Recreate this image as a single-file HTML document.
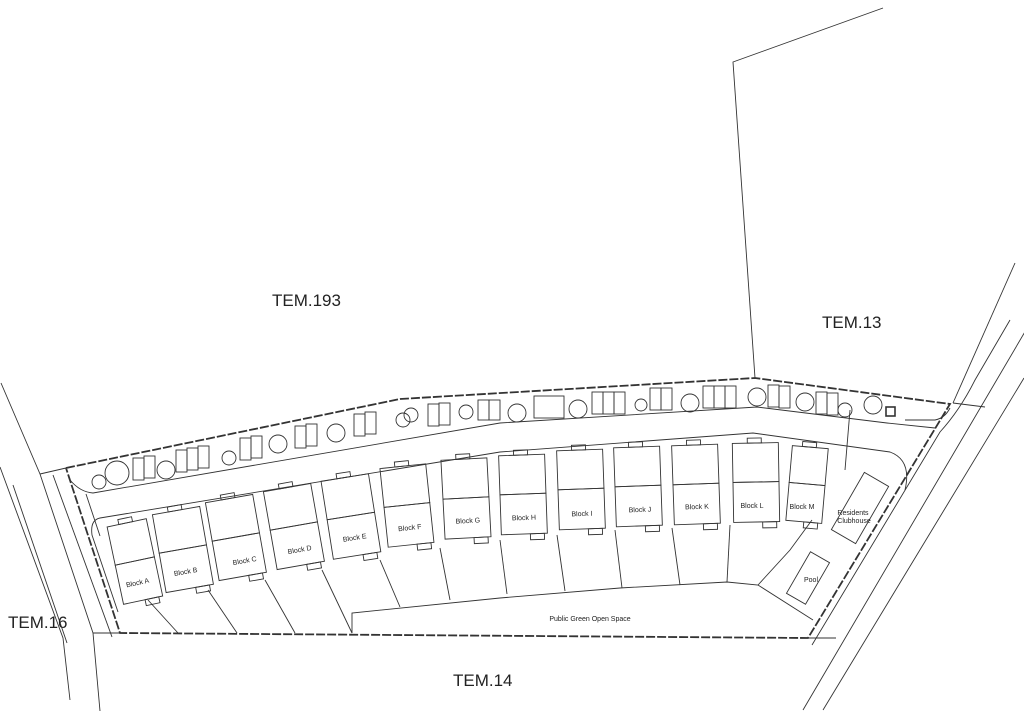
<!DOCTYPE html>
<html><head><meta charset="utf-8"><style>
html,body{margin:0;padding:0;background:#fff;}
svg{display:block;}
text{font-family:"Liberation Sans",sans-serif;fill:#222;}
.t{font-size:17px;}
.s{font-size:7px;text-anchor:middle;}
</style></head><body>
<svg width="1024" height="711" viewBox="0 0 1024 711" xmlns="http://www.w3.org/2000/svg">
<g fill="none" stroke="#333" stroke-width="0.9">
<polyline points="883,8 733,62 755,378"/>
<!-- right roads -->
<line x1="1015" y1="263" x2="953" y2="403"/>
<path d="M1010,320 L975,380 Q960,410 940,432 L812,645"/>
<line x1="1026" y1="330" x2="803" y2="710"/>
<line x1="1024" y1="378" x2="823" y2="710"/>
<line x1="953" y1="403" x2="985" y2="407"/>
<line x1="800" y1="638" x2="836" y2="638"/>
<!-- left roads -->
<polyline points="1,383 40,474 93,633 100,711"/>
<polyline points="0,467 63,638 70,700"/>
<line x1="13" y1="485" x2="67" y2="643"/>
<line x1="40" y1="474" x2="66" y2="468"/>
<line x1="93" y1="633" x2="120" y2="633"/>
<line x1="53" y1="475" x2="112" y2="637"/>
<polyline points="66,468 400,399 755,378 950,404 808,638 120,633 66,468" stroke-width="1.8" stroke-dasharray="9,2"/>
<path d="M70,480 Q80,492 93,493 L500,423 L757,407 L887,423 L935,428"/>
<path d="M118,612 L92,535 Q90,520 100,518 L500,452 L753,433 L890,452 Q912,460 905,490"/>
<line x1="86" y1="494" x2="100" y2="536"/>
<polyline points="352,633 352,613 500,598 620,588 727,582 758,585 813,620"/>
<polyline points="758,585 790,550 812,520"/>
<line x1="148" y1="600" x2="178" y2="633"/><line x1="208" y1="590" x2="237" y2="633"/>
<line x1="265" y1="580" x2="295" y2="633"/><line x1="322" y1="570" x2="352" y2="633"/>
<line x1="380" y1="560" x2="400" y2="607"/><line x1="440" y1="548" x2="450" y2="600"/>
<line x1="500" y1="540" x2="507" y2="594"/><line x1="557" y1="535" x2="565" y2="591"/>
<line x1="615" y1="530" x2="622" y2="588"/><line x1="672" y1="528" x2="680" y2="585"/>
<line x1="730" y1="525" x2="727" y2="582"/><line x1="850" y1="410" x2="845" y2="470"/>
<g transform="translate(860,508) rotate(30)"><rect x="-14" y="-33" width="28" height="66"/></g>
<g transform="translate(808,578) rotate(30)"><rect x="-11" y="-24" width="22" height="48"/></g>
<rect x="886" y="407" width="9" height="9" stroke-width="1.6"/>
<path d="M905,420 L935,420 Q945,418 950,408"/>
<g>
<g transform="translate(135,562) rotate(-12)"><rect x="-20" y="-40" width="40" height="39"/><rect x="-20" y="-1" width="40" height="40"/><rect x="-8" y="-45" width="14" height="5"/><rect x="2" y="39" width="14" height="6"/></g>
<g transform="translate(183,550) rotate(-10)"><rect x="-24" y="-40" width="48" height="39"/><rect x="-24" y="-1" width="48" height="40"/><rect x="-8" y="-45" width="14" height="5"/><rect x="6" y="39" width="14" height="6"/></g>
<g transform="translate(236,538) rotate(-10)"><rect x="-24" y="-40" width="48" height="39"/><rect x="-24" y="-1" width="48" height="40"/><rect x="-8" y="-45" width="14" height="5"/><rect x="6" y="39" width="14" height="6"/></g>
<g transform="translate(294,527) rotate(-10)"><rect x="-24" y="-40" width="48" height="39"/><rect x="-24" y="-1" width="48" height="40"/><rect x="-8" y="-45" width="14" height="5"/><rect x="6" y="39" width="14" height="6"/></g>
<g transform="translate(351,517) rotate(-9)"><rect x="-24" y="-40" width="48" height="39"/><rect x="-24" y="-1" width="48" height="40"/><rect x="-8" y="-45" width="14" height="5"/><rect x="6" y="39" width="14" height="6"/></g>
<g transform="translate(407,506) rotate(-6)"><rect x="-23" y="-40" width="46" height="39"/><rect x="-23" y="-1" width="46" height="40"/><rect x="-8" y="-45" width="14" height="5"/><rect x="6" y="39" width="14" height="6"/></g>
<g transform="translate(466,499) rotate(-3)"><rect x="-23" y="-40" width="46" height="39"/><rect x="-23" y="-1" width="46" height="40"/><rect x="-8" y="-45" width="14" height="5"/><rect x="6" y="39" width="14" height="6"/></g>
<g transform="translate(523,495) rotate(-2)"><rect x="-23" y="-40" width="46" height="39"/><rect x="-23" y="-1" width="46" height="40"/><rect x="-8" y="-45" width="14" height="5"/><rect x="6" y="39" width="14" height="6"/></g>
<g transform="translate(581,490) rotate(-2)"><rect x="-23" y="-40" width="46" height="39"/><rect x="-23" y="-1" width="46" height="40"/><rect x="-8" y="-45" width="14" height="5"/><rect x="6" y="39" width="14" height="6"/></g>
<g transform="translate(638,487) rotate(-2)"><rect x="-23" y="-40" width="46" height="39"/><rect x="-23" y="-1" width="46" height="40"/><rect x="-8" y="-45" width="14" height="5"/><rect x="6" y="39" width="14" height="6"/></g>
<g transform="translate(696,485) rotate(-2)"><rect x="-23" y="-40" width="46" height="39"/><rect x="-23" y="-1" width="46" height="40"/><rect x="-8" y="-45" width="14" height="5"/><rect x="6" y="39" width="14" height="6"/></g>
<g transform="translate(756,483) rotate(-1)"><rect x="-23" y="-40" width="46" height="39"/><rect x="-23" y="-1" width="46" height="40"/><rect x="-8" y="-45" width="14" height="5"/><rect x="6" y="39" width="14" height="6"/></g>
<g transform="translate(807,485) rotate(5)"><rect x="-18" y="-38" width="36" height="37"/><rect x="-18" y="-1" width="36" height="38"/><rect x="-8" y="-43" width="14" height="5"/><rect x="0" y="37" width="14" height="6"/></g>
</g>
<g>
<rect x="133" y="458" width="11" height="22"/><rect x="144" y="456" width="11" height="22"/>
<rect x="176" y="450" width="11" height="22"/><rect x="187" y="448" width="11" height="22"/><rect x="198" y="446" width="11" height="22"/>
<rect x="240" y="438" width="11" height="22"/><rect x="251" y="436" width="11" height="22"/>
<rect x="295" y="426" width="11" height="22"/><rect x="306" y="424" width="11" height="22"/>
<rect x="354" y="414" width="11" height="22"/><rect x="365" y="412" width="11" height="22"/>
<rect x="428" y="404" width="11" height="22"/><rect x="439" y="403" width="11" height="22"/>
<rect x="478" y="400" width="11" height="20"/><rect x="489" y="400" width="11" height="20"/>
<rect x="534" y="396" width="30" height="22"/>
<rect x="592" y="392" width="11" height="22"/><rect x="603" y="392" width="11" height="22"/><rect x="614" y="392" width="11" height="22"/>
<rect x="650" y="388" width="11" height="22"/><rect x="661" y="388" width="11" height="22"/>
<rect x="703" y="386" width="11" height="22"/><rect x="714" y="386" width="11" height="22"/><rect x="725" y="386" width="11" height="22"/>
<rect x="768" y="385" width="11" height="22"/><rect x="779" y="386" width="11" height="22"/>
<rect x="816" y="392" width="11" height="22"/><rect x="827" y="393" width="11" height="22"/>
</g>
<g>
<circle cx="117" cy="473" r="12"/><circle cx="99" cy="482" r="7"/><circle cx="166" cy="470" r="9"/>
<circle cx="229" cy="458" r="7"/><circle cx="278" cy="444" r="9"/><circle cx="336" cy="433" r="9"/>
<circle cx="403" cy="420" r="7"/><circle cx="411" cy="415" r="7"/><circle cx="466" cy="412" r="7"/>
<circle cx="517" cy="413" r="9"/><circle cx="578" cy="409" r="9"/><circle cx="641" cy="405" r="6"/>
<circle cx="690" cy="403" r="9"/><circle cx="757" cy="397" r="9"/><circle cx="805" cy="402" r="9"/>
<circle cx="845" cy="410" r="7"/><circle cx="873" cy="405" r="9"/>
</g>
</g>
<text class="t" x="272" y="306">TEM.193</text>
<text class="t" x="822" y="328">TEM.13</text>
<text class="t" x="8" y="628">TEM.16</text>
<text class="t" x="453" y="686">TEM.14</text>
<g>
<text class="s" transform="translate(138,585) rotate(-12)">Block A</text>
<text class="s" transform="translate(186,574) rotate(-10)">Block B</text>
<text class="s" transform="translate(245,563) rotate(-10)">Block C</text>
<text class="s" transform="translate(300,552) rotate(-10)">Block D</text>
<text class="s" transform="translate(355,540) rotate(-9)">Block E</text>
<text class="s" transform="translate(410,530) rotate(-6)">Block F</text>
<text class="s" transform="translate(468,523) rotate(-3)">Block G</text>
<text class="s" transform="translate(524,520) rotate(-2)">Block H</text>
<text class="s" transform="translate(582,516) rotate(-2)">Block I</text>
<text class="s" transform="translate(640,512) rotate(-2)">Block J</text>
<text class="s" transform="translate(697,509) rotate(-2)">Block K</text>
<text class="s" transform="translate(752,508)">Block L</text>
<text class="s" transform="translate(802,509)">Block M</text>
<text class="s" x="853" y="515">Residents</text>
<text class="s" x="854" y="523">Clubhouse</text>
<text class="s" x="811" y="582">Pool</text>
<text class="s" x="590" y="621">Public Green Open Space</text>
</g>
</svg>
</body></html>
